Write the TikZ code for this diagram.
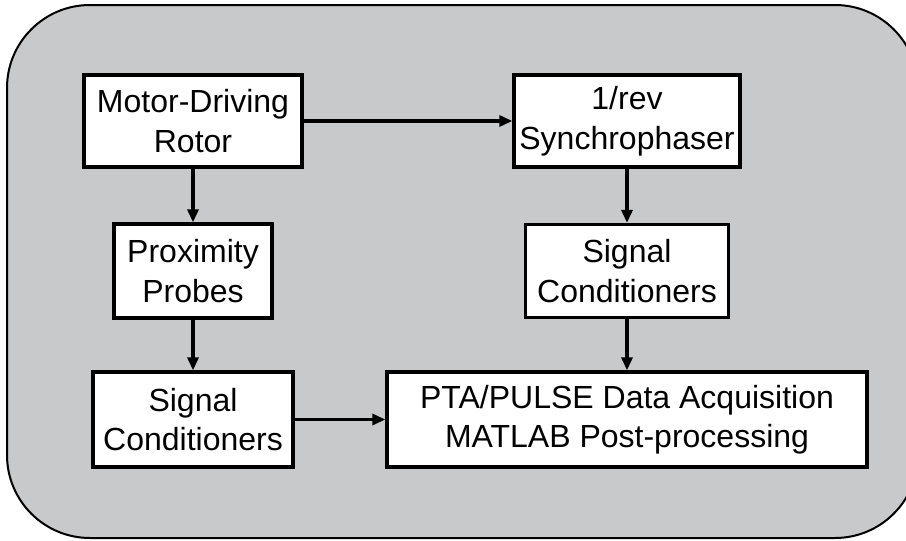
\documentclass[tikz,border=0pt]{standalone}
\usepackage{fontspec}
\setmainfont{Liberation Sans}
\usetikzlibrary{arrows.meta}
\definecolor{panelgray}{RGB}{200,201,203}
\tikzset{
  blk/.style={draw=black, fill=white, line width=3.3pt, align=center,
    inner sep=0pt, font=\fontsize{32}{39.5}\selectfont},
  flow/.style={line width=3.2pt, -{Triangle[length=13pt,width=11pt]}}
}
\begin{document}
\begin{tikzpicture}[x=1pt,y=-1pt]
\useasboundingbox (0,0) rectangle (906,541);
\begin{scope}
\clip (0,0) rectangle (906,541);
\draw[fill=panelgray, line width=2pt, rounded corners=83pt] (7,5) rectangle (918,538);
\end{scope}
\node[blk, minimum width=218pt, minimum height=92pt] (rotor) at (193,121) {Motor-Driving\\Rotor};
\node[blk, minimum width=226pt, minimum height=92pt] (sync) at (627,121) {1/rev\\Synchrophaser};
\node[blk, minimum width=158pt, minimum height=94pt] (probes) at (193,271) {Proximity\\Probes};
\node[blk, minimum width=203pt, minimum height=93pt] (condR) at (627,271) {Signal\\Conditioners};
\node[blk, minimum width=200pt, minimum height=95pt] (condL) at (193,419.5) {Signal\\Conditioners};
\node[blk, minimum width=480pt, minimum height=95pt] (daq) at (627,419.5) {PTA/PULSE Data Acquisition\\MATLAB Post-processing};
\draw[flow] (rotor) -- (sync);
\draw[flow] (rotor) -- (probes);
\draw[flow] (probes) -- (condL);
\draw[flow] (sync) -- (condR);
\draw[flow] (condR) -- (daq);
\draw[flow] (condL) -- (daq);
\end{tikzpicture}
\end{document}
